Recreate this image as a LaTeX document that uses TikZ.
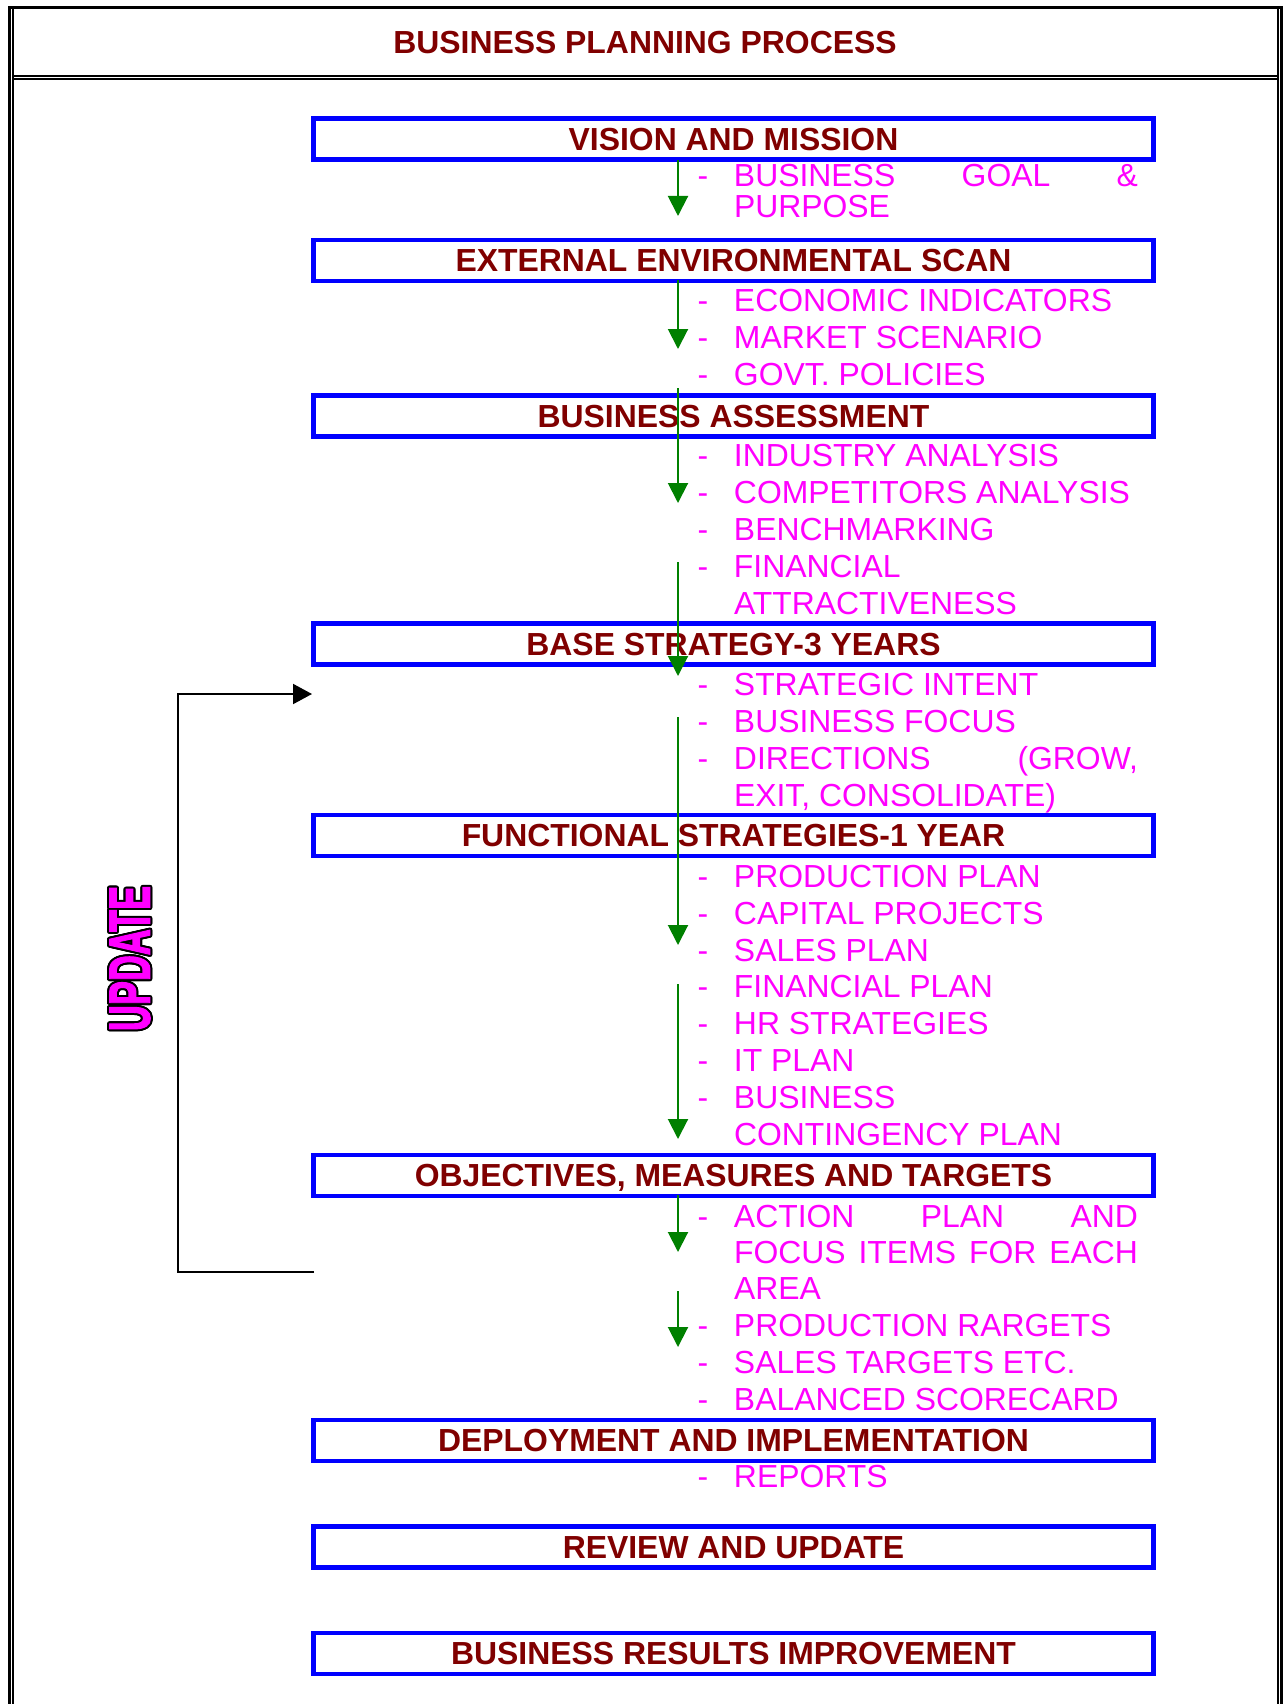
\documentclass[tikz,border=0pt]{standalone}
\usepackage{fontspec}
\setmainfont{Liberation Sans}
\newfontfamily\updfont{Liberation Sans}[BoldFeatures={FakeBold=2.5}]
\usepackage{contour}
\usetikzlibrary{arrows.meta}
\definecolor{maroonc}{HTML}{800000}
\definecolor{pinkc}{HTML}{FF00FF}
\definecolor{bluec}{HTML}{0000FF}
\definecolor{greenc}{HTML}{008000}
\newcommand{\boxfont}{\fontsize{31.9}{37}\selectfont\bfseries}
\newcommand{\bulfont}{\fontsize{31.9}{37}\selectfont}
\newcommand{\dashmark}{\makebox[36.3pt][l]{-}}
\begin{document}
\begin{tikzpicture}[x=1pt,y=-1pt,
  stage/.style={draw=bluec, line width=4.5pt, minimum width=840pt, minimum height=41pt,
    inner sep=0pt, outer sep=0pt, text=maroonc, font=\boxfont, text height=22.8pt,
    text depth=0pt, anchor=north},
  bul/.style={anchor=base west, inner sep=0pt, outer sep=0pt, text=pinkc, font=\bulfont},
  flow/.style={draw=greenc, line width=2pt, -{Triangle[length=20pt,width=20pt]}},
  upd/.style={draw=black, line width=2pt, -{Triangle[length=19pt,width=20pt]}},
  frameA/.style={line width=3pt},
  frameB/.style={line width=1.5pt}]
\useasboundingbox (0,0) rectangle (1283,1704);
% frame
\draw[frameA] (9.3,1704) -- (9.3,7.5) -- (1281.2,7.5) -- (1281.2,1704);
\draw[frameB] (12.8,9) -- (12.8,1704);
\draw[frameB] (1278,9) -- (1278,1704);
\draw[line width=2.5pt] (12.8,75.8) -- (1278,75.8);
\draw[frameB] (12.8,78.8) -- (1278,78.8);
% title
\node[text=maroonc, font=\boxfont, text height=22.8pt, text depth=0pt, inner sep=0pt] (title) at (645,42) {BUSINESS PLANNING PROCESS};
% stage boxes
\node[stage] (s1) at (733.5,118.5) {VISION AND MISSION};
\node[stage] (s2) at (733.5,240) {EXTERNAL ENVIRONMENTAL SCAN};
\node[stage] (s3) at (733.5,395.5) {BUSINESS ASSESSMENT};
\node[stage] (s4) at (733.5,623.5) {BASE STRATEGY-3 YEARS};
\node[stage] (s5) at (733.5,815) {FUNCTIONAL STRATEGIES-1 YEAR};
\node[stage] (s6) at (733.5,1155) {OBJECTIVES, MEASURES AND TARGETS};
\node[stage] (s7) at (733.5,1420) {DEPLOYMENT AND IMPLEMENTATION};
\node[stage] (s8) at (733.5,1526.5) {REVIEW AND UPDATE};
\node[stage] (s9) at (733.5,1633) {BUSINESS RESULTS IMPROVEMENT};
% bullet items
\node[bul] (b1) at (697.7,187) {\dashmark\parbox[t]{404pt}{\fontsize{31.9}{31}\selectfont\makebox[404pt][s]{BUSINESS GOAL \&}\\PURPOSE}};
\node[bul] (b2) at (697.7,311) {\dashmark ECONOMIC INDICATORS};
\node[bul] (b3) at (697.7,348) {\dashmark MARKET SCENARIO};
\node[bul] (b4) at (697.7,385) {\dashmark GOVT. POLICIES};
\node[bul] (b5) at (697.7,466) {\dashmark INDUSTRY ANALYSIS};
\node[bul] (b6) at (697.7,503) {\dashmark COMPETITORS ANALYSIS};
\node[bul] (b7) at (697.7,540) {\dashmark BENCHMARKING};
\node[bul] (b8) at (697.7,577) {\dashmark\parbox[t]{404pt}{FINANCIAL\\ATTRACTIVENESS}};
\node[bul] (b9) at (697.7,695) {\dashmark STRATEGIC INTENT};
\node[bul] (b10) at (697.7,732) {\dashmark BUSINESS FOCUS};
\node[bul] (b11) at (697.7,769) {\dashmark\parbox[t]{404pt}{\makebox[404pt][s]{DIRECTIONS (GROW,}\\EXIT, CONSOLIDATE)}};
\node[bul] (b12) at (697.7,887) {\dashmark PRODUCTION PLAN};
\node[bul] (b13) at (697.7,924) {\dashmark CAPITAL PROJECTS};
\node[bul] (b14) at (697.7,961) {\dashmark SALES PLAN};
\node[bul] (b15) at (697.7,997) {\dashmark FINANCIAL PLAN};
\node[bul] (b16) at (697.7,1034) {\dashmark HR STRATEGIES};
\node[bul] (b17) at (697.7,1071) {\dashmark IT PLAN};
\node[bul] (b18) at (697.7,1108) {\dashmark\parbox[t]{404pt}{BUSINESS\\CONTINGENCY PLAN}};
\node[bul] (b19) at (697.7,1227) {\dashmark\parbox[t]{404pt}{\fontsize{31.9}{36}\selectfont\makebox[404pt][s]{ACTION PLAN AND}\\\makebox[404pt][s]{FOCUS ITEMS FOR EACH}\\AREA}};
\node[bul] (b20) at (697.7,1336) {\dashmark PRODUCTION RARGETS};
\node[bul] (b21) at (697.7,1373) {\dashmark SALES TARGETS ETC.};
\node[bul] (b22) at (697.7,1410) {\dashmark BALANCED SCORECARD};
\node[bul] (b23) at (697.7,1487) {\dashmark REPORTS};
% UPDATE label
\node[rotate=90, text=pinkc, inner sep=0pt, font=\updfont\fontsize{58}{60}\selectfont\bfseries] (updlabel) at (131,958.5)
  {\contourlength{2pt}\contour{black}{\scalebox{0.62}[1]{UPDATE}}};
% update connector
\coordinate (uA) at (314,1272);
\coordinate (uC) at (178,694);
\coordinate (uB) at (312,694);
\draw[upd] (uA) -| (uC) -- (uB);
% green flow arrows
\coordinate (g1a) at (678,160);  \coordinate (g1b) at (678,216);
\coordinate (g2a) at (678,280);  \coordinate (g2b) at (678,349);
\coordinate (g3a) at (678,388);  \coordinate (g3b) at (678,503);
\coordinate (g4a) at (678,562);  \coordinate (g4b) at (678,676);
\coordinate (g5a) at (678,717);  \coordinate (g5b) at (678,945);
\coordinate (g6a) at (678,984);  \coordinate (g6b) at (678,1139);
\coordinate (g7a) at (678,1195); \coordinate (g7b) at (678,1252);
\coordinate (g8a) at (678,1291); \coordinate (g8b) at (678,1347);
\draw[flow] (g1a) -- (g1b);
\draw[flow] (g2a) -- (g2b);
\draw[flow] (g3a) -- (g3b);
\draw[flow] (g4a) -- (g4b);
\draw[flow] (g5a) -- (g5b);
\draw[flow] (g6a) -- (g6b);
\draw[flow] (g7a) -- (g7b);
\draw[flow] (g8a) -- (g8b);
\end{tikzpicture}
\end{document}
